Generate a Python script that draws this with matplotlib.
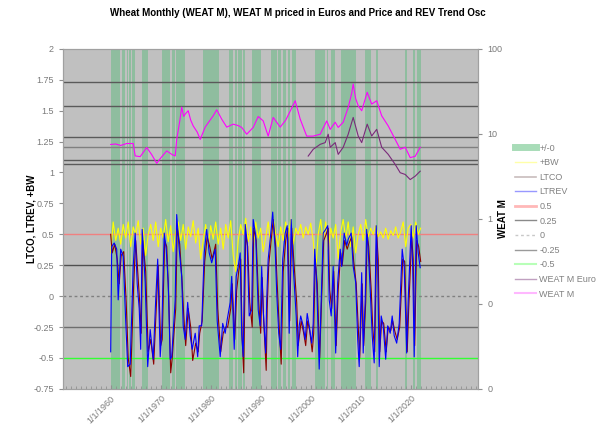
import matplotlib
matplotlib.use("Agg")
import matplotlib.pyplot as plt
from matplotlib.lines import Line2D
from matplotlib.ticker import FixedLocator, MultipleLocator
import numpy as np

plt.rcParams['font.family'] = ['Liberation Sans', 'DejaVu Sans']

# green "+/-0" periods (start year, end year)
bands = [(1960.0, 1961.9), (1962.3, 1962.9), (1963.2, 1963.5), (1963.7, 1964.0),
         (1964.2, 1964.9), (1966.2, 1967.5), (1970.2, 1971.9), (1972.2, 1972.9),
         (1973.1, 1974.9), (1978.4, 1981.7), (1983.7, 1984.5), (1984.9, 1985.2),
         (1985.4, 1986.2), (1986.4, 1986.9), (1988.2, 1990.1), (1992.0, 1993.2),
         (1993.5, 1994.0), (1994.4, 1995.0), (1995.4, 1995.9), (1996.2, 1997.1),
         (2000.9, 2002.9), (2003.2, 2003.5), (2004.0, 2004.9), (2006.1, 2009.1),
         (2010.9, 2012.1), (2013.0, 2013.4), (2018.9, 2019.3), (2020.4, 2020.9),
         (2021.3, 2022.0)]

# +BW (yellow), half-year samples from 1960.0
bw_start = 1960.0
bw = [0.35, 0.60, 0.45, 0.55, 0.42, 0.58, 0.47, 0.60, 0.40, 0.56, 0.50, 0.61,
      0.42, 0.55, 0.33, 0.50, 0.58, 0.45, 0.60, 0.40, 0.55, 0.47, 0.62, 0.44,
      0.57, 0.36, 0.52, 0.60, 0.45, 0.58, 0.38, 0.56, 0.48, 0.61, 0.43, 0.55,
      0.30, 0.45, 0.58, 0.40, 0.57, 0.46, 0.60, 0.42, 0.55, 0.38, 0.58, 0.47,
      0.61, 0.33, 0.20, 0.45, 0.58, 0.50, 0.63, 0.44, 0.56, 0.40, 0.60, 0.47,
      0.55, 0.36, 0.48, 0.60, 0.42, 0.63, 0.50, 0.40, 0.56, 0.45, 0.60, 0.48,
      0.62, 0.42, 0.55, 0.50, 0.58, 0.47, 0.56, 0.50, 0.59, 0.45, 0.20, 0.50,
      0.62, 0.44, 0.60, 0.38, 0.55, 0.47, 0.58, 0.30, 0.52, 0.62, 0.46, 0.60,
      0.40, 0.56, 0.35, 0.50, 0.58, 0.45, 0.62, 0.48, 0.55, 0.50, 0.57, 0.48,
      0.52, 0.47, 0.55, 0.46, 0.53, 0.49, 0.56, 0.47, 0.52, 0.60, 0.40, 0.55,
      0.58, 0.47, 0.60, 0.50, 0.55]

# LTCO (maroon)
ltco_years = [1960.0, 1960.3, 1960.8, 1961.3, 1961.7, 1962.1, 1962.6, 1963.1, 1963.5, 1964.0,
              1964.6, 1965.0, 1965.4, 1965.8, 1966.1, 1966.4, 1967.0, 1967.5, 1968.0, 1968.6,
              1969.1, 1969.5, 1970.0, 1970.3, 1970.8, 1971.2, 1971.6, 1972.0, 1972.3, 1973.0,
              1973.3, 1973.8, 1974.3, 1974.6, 1975.0, 1975.5, 1976.0, 1976.4, 1977.0, 1977.5,
              1977.8, 1978.3, 1978.8, 1979.3, 1979.8, 1980.3, 1981.0, 1981.4, 1982.0, 1982.5,
              1983.0, 1983.4, 1984.0, 1984.3, 1984.8, 1985.2, 1985.6, 1986.0, 1986.3, 1986.6,
              1987.0, 1987.4, 1987.8, 1988.3, 1988.6, 1989.1, 1989.6, 1990.0, 1990.3, 1990.6,
              1991.1, 1991.3, 1991.6, 1992.2, 1992.5, 1993.0, 1993.3, 1993.7, 1994.1, 1994.5,
              1995.0, 1995.4, 1995.8, 1996.2, 1996.6, 1997.2, 1997.5, 1997.8, 1998.1, 1998.6,
              1999.0, 1999.4, 1999.8, 2000.3, 2000.6, 2000.9, 2001.3, 2001.8, 2002.2, 2002.6,
              2003.1, 2003.5, 2003.8, 2004.2, 2004.6, 2005.1, 2005.5, 2006.0, 2006.3, 2006.8,
              2007.3, 2007.6, 2008.2, 2008.6, 2009.1, 2009.5, 2009.8, 2010.3, 2010.6, 2011.0,
              2011.3, 2011.6, 2012.1, 2012.4, 2012.8, 2013.2, 2013.5, 2013.8, 2014.2, 2014.6,
              2015.1, 2015.5, 2016.0, 2016.4, 2016.8, 2017.3, 2017.8, 2018.2, 2018.4, 2018.8,
              2019.3, 2019.6, 2020.2, 2020.5, 2020.8, 2021.2, 2021.6, 2022.0]
ltco = [0.50, 0.35, 0.42, 0.30, 0.10, 0.33, 0.36, -0.05, -0.50, -0.65,
        0.10, 0.45, 0.20, -0.05, -0.30, 0.45, 0.20, -0.45, -0.35, -0.55,
        -0.10, 0.25, -0.40, -0.35, 0.45, 0.40, 0.00, -0.62, -0.50, -0.10,
        0.55, 0.42, 0.10, -0.15, -0.40, -0.10, -0.25, -0.52, -0.38, -0.45,
        -0.30, -0.20, 0.28, 0.48, 0.40, 0.30, 0.42, -0.10, -0.45, -0.30,
        -0.25, -0.25, -0.10, 0.10, -0.35, 0.05, 0.20, 0.30, -0.35, -0.62,
        0.50, 0.40, -0.05, -0.25, 0.55, 0.45, -0.05, -0.30, 0.15, -0.20,
        -0.60, -0.10, 0.25, 0.50, 0.62, 0.40, 0.10, -0.25, -0.55, 0.20,
        0.45, 0.55, -0.20, 0.55, 0.30, -0.05, -0.40, -0.30, -0.20, -0.30,
        -0.40, -0.20, -0.28, -0.45, -0.30, 0.30, 0.10, -0.50, 0.00, 0.45,
        0.50, 0.55, 0.05, -0.10, 0.20, -0.40, 0.05, 0.35, 0.25, 0.45,
        0.38, 0.42, 0.48, 0.28, 0.10, -0.25, -0.50, 0.10, -0.40, -0.05,
        0.50, 0.40, 0.05, -0.25, -0.45, 0.50, 0.30, -0.45, -0.20, -0.22,
        -0.45, -0.25, -0.28, -0.20, -0.28, -0.35, -0.25, 0.10, 0.30, 0.28,
        -0.45, -0.10, 0.48, 0.30, -0.40, 0.45, 0.40, 0.28]

# LTREV (blue)
ltrev_years = [1960.0, 1960.2, 1960.7, 1961.2, 1961.5, 1962.0, 1962.5, 1963.0, 1963.4, 1963.9,
               1964.5, 1964.9, 1965.3, 1965.7, 1966.0, 1966.3, 1966.9, 1967.4, 1967.9, 1968.5,
               1969.0, 1969.4, 1969.9, 1970.2, 1970.7, 1971.1, 1971.5, 1971.9, 1972.2, 1972.9,
               1973.2, 1973.7, 1974.2, 1974.5, 1974.9, 1975.4, 1975.9, 1976.3, 1976.9, 1977.4,
               1977.7, 1978.2, 1978.7, 1979.2, 1979.7, 1980.2, 1980.9, 1981.3, 1981.9, 1982.4,
               1982.9, 1983.3, 1983.9, 1984.2, 1984.7, 1985.1, 1985.5, 1985.9, 1986.2, 1986.5,
               1986.9, 1987.3, 1987.7, 1988.2, 1988.5, 1989.0, 1989.5, 1989.9, 1990.2, 1990.5,
               1991.0, 1991.2, 1991.5, 1992.1, 1992.4, 1992.9, 1993.2, 1993.6, 1994.0, 1994.4,
               1994.9, 1995.3, 1995.7, 1996.1, 1996.5, 1997.1, 1997.4, 1997.7, 1998.0, 1998.5,
               1998.9, 1999.3, 1999.7, 2000.2, 2000.5, 2000.8, 2001.2, 2001.7, 2002.1, 2002.5,
               2003.0, 2003.4, 2003.7, 2004.1, 2004.5, 2005.0, 2005.4, 2005.9, 2006.2, 2006.7,
               2007.2, 2007.5, 2008.1, 2008.5, 2009.0, 2009.4, 2009.7, 2010.2, 2010.5, 2010.9,
               2011.2, 2011.5, 2012.0, 2012.3, 2012.7, 2013.1, 2013.4, 2013.7, 2014.1, 2014.5,
               2015.0, 2015.4, 2015.9, 2016.3, 2016.7, 2017.2, 2017.7, 2018.1, 2018.3, 2018.7,
               2019.2, 2019.5, 2020.1, 2020.4, 2020.7, 2021.1, 2021.5, 2021.9]
ltrev = [-0.45, 0.40, 0.43, 0.38, -0.03, 0.38, 0.32, -0.20, -0.57, -0.55,
         0.24, 0.51, 0.10, -0.10, -0.43, 0.54, 0.11, -0.57, -0.27, -0.51,
         -0.03, 0.30, -0.49, -0.30, 0.51, 0.38, 0.11, -0.51, -0.49, -0.03,
         0.66, 0.38, 0.16, -0.24, -0.35, -0.05, -0.32, -0.43, -0.30, -0.49,
         -0.24, -0.24, 0.35, 0.54, 0.35, 0.27, 0.38, -0.20, -0.49, -0.22,
         -0.30, -0.19, -0.05, 0.16, -0.43, 0.16, 0.24, 0.35, -0.30, -0.49,
         0.58, 0.43, -0.16, -0.11, 0.62, 0.49, -0.11, -0.24, 0.24, -0.11,
         -0.46, -0.03, 0.30, 0.54, 0.68, 0.38, 0.03, -0.30, -0.43, 0.30,
         0.51, 0.57, -0.30, 0.62, 0.24, -0.16, -0.49, -0.24, -0.16, -0.24,
         -0.35, -0.14, -0.24, -0.38, -0.22, 0.38, 0.10, -0.59, -0.03, 0.51,
         0.54, 0.57, -0.03, -0.16, 0.24, -0.46, 0.11, 0.38, 0.24, 0.51,
         0.41, 0.46, 0.51, 0.24, 0.11, -0.35, -0.57, 0.19, -0.46, -0.03,
         0.54, 0.38, -0.03, -0.32, -0.54, 0.57, 0.24, -0.57, -0.16, -0.24,
         -0.51, -0.24, -0.30, -0.16, -0.32, -0.38, -0.22, 0.19, 0.38, 0.24,
         -0.46, -0.03, 0.57, 0.24, -0.49, 0.57, 0.35, 0.23]

# WEAT M price (right, log axis)
weat_years = [1960.0, 1961.0, 1962.0, 1963.2, 1964.5, 1964.9, 1965.9, 1967.2, 1968.2, 1969.2,
              1970.0, 1971.2, 1972.3, 1972.9, 1973.2, 1973.8, 1974.2, 1974.6, 1974.9, 1975.5,
              1976.0, 1976.5, 1977.3, 1977.9, 1978.9, 1979.5, 1980.5, 1981.2, 1982.2, 1983.2,
              1984.5, 1985.5, 1986.2, 1987.2, 1988.5, 1989.5, 1990.5, 1991.5, 1992.5, 1993.9,
              1995.0, 1996.0, 1996.9, 1997.9, 1999.2, 2000.5, 2001.9, 2003.2, 2003.9, 2004.9,
              2005.5, 2006.5, 2007.5, 2008.2, 2008.5, 2009.0, 2009.5, 2010.2, 2011.3, 2012.2,
              2013.2, 2014.2, 2015.5, 2016.9, 2017.9, 2018.9, 2019.9, 2020.9, 2021.9]
weat = [7.5, 7.6, 7.3, 7.7, 7.7, 5.5, 5.4, 6.9, 5.7, 4.5,
        5.2, 6.3, 5.7, 5.5, 8.6, 14.0, 20.6, 16.0, 17.1, 18.7,
        14.5, 12.4, 10.5, 8.6, 12.0, 13.5, 16.3, 19.2, 14.9, 12.0,
        13.0, 12.5, 11.9, 9.9, 11.9, 16.0, 14.2, 9.4, 15.6, 12.0,
        14.5, 19.0, 24.5, 14.9, 9.4, 9.4, 9.9, 14.2, 11.3, 13.7,
        11.9, 13.7, 20.5, 30.0, 38.6, 26.0, 21.4, 18.7, 30.8, 22.4,
        24.5, 16.3, 12.4, 8.6, 6.6, 6.95, 5.25, 5.45, 6.95]

# WEAT M priced in Euros
euro_years = [1999.5, 2000.5, 2001.9, 2002.9, 2003.5, 2003.9, 2004.9, 2005.5, 2006.5, 2007.5,
              2008.5, 2009.5, 2010.2, 2011.3, 2012.2, 2013.2, 2014.2, 2015.5, 2016.9, 2017.9,
              2018.9, 2019.9, 2020.9, 2021.9]
weat_euro = [5.48, 6.58, 7.53, 7.89, 9.9, 6.95, 7.89, 5.74, 6.95, 9.9,
             15.6, 9.44, 7.89, 13.0, 9.44, 11.3, 6.95, 5.74, 4.37, 3.49,
             3.33, 2.90, 3.18, 3.64]

# unlabelled horizontal levels in the upper part
upper_levels = [1.73, 1.54, 1.29, 1.21, 1.10, 1.07]
upper_colors = ['#5a5a5a', '#5a5a5a', '#5a5a5a', '#808080', '#5a5a5a', '#5a5a5a']

decades = [1960, 1970, 1980, 1990, 2000, 2010, 2020]

fig = plt.figure(figsize=(6.0, 4.36), dpi=100)
ax = fig.add_axes([0.105, 0.108, 0.692, 0.780])
ax.set_facecolor('#c0c0c0')

for s, e in bands:
    ax.axvspan(s, e, color='#8fbd9f', lw=0, zorder=1)

for lv, c in zip(upper_levels, upper_colors):
    ax.axhline(lv, color=c, lw=1.0, zorder=2)
ax.axhline(0.5, color='#f08080', lw=1.0, zorder=2)
ax.axhline(0.25, color='#505050', lw=1.0, zorder=2)
ax.axhline(0.0, color='#808080', lw=1.0, ls=(0, (2, 2)), zorder=2)
ax.axhline(-0.25, color='#6e6e6e', lw=1.0, zorder=2)
ax.axhline(-0.5, color='#33ff33', lw=1.0, zorder=2)

bw_years = bw_start + 0.5 * np.arange(len(bw))
ax.plot(bw_years, bw, color='#ffff00', lw=0.8, zorder=3)
ax.plot(ltco_years, ltco, color='#8b0000', lw=0.8, zorder=4)
ax.plot(ltrev_years, ltrev, color='#0000ff', lw=0.8, zorder=5)

ax.set_xlim(1950.46, 2033.5)
ax.set_ylim(-0.75, 2.0)
yt = np.arange(-0.75, 2.01, 0.25)
ax.set_yticks(yt)
ax.set_yticklabels(['%g' % v for v in yt])
ax.xaxis.set_major_locator(FixedLocator(decades))
ax.xaxis.set_minor_locator(MultipleLocator(1))
ax.set_xticklabels(['1/1/%d' % d for d in decades], rotation=45, ha='right',
                   rotation_mode='anchor')
ax.tick_params(axis='both', labelsize=6.5, labelcolor='#7a7a7a', color='#909090')
ax.tick_params(axis='x', direction='in', length=3)
ax.tick_params(axis='x', which='minor', direction='in', length=2, color='#909090')
ax.tick_params(axis='y', direction='out', length=3)
for sp in ax.spines.values():
    sp.set_color('#a0a0a0')
ax.set_ylabel('LTCO, LTREV, +BW', fontsize=7, fontweight='bold')
ax.yaxis.set_label_coords(-0.063, 0.5)

ax2 = ax.twinx()
ax2.set_yscale('log')
ax2.set_ylim(0.01, 100)
ax2.plot(euro_years, weat_euro, color='#7a2a7a', lw=0.8, zorder=6)
ax2.plot(weat_years, weat, color='#ff00ff', lw=0.8, zorder=6)
ax2.yaxis.set_major_locator(FixedLocator([0.01, 0.1, 1, 10, 100]))
ax2.yaxis.set_minor_locator(FixedLocator([]))
ax2.set_yticklabels(['0', '0', '1', '10', '100'])
ax2.tick_params(axis='y', labelsize=6.5, labelcolor='#7a7a7a', color='#909090',
                direction='out', length=3)
for sp in ax2.spines.values():
    sp.set_color('#a0a0a0')
ax2.set_ylabel('WEAT M', fontsize=7, fontweight='bold')
ax2.yaxis.set_label_coords(1.048, 0.5)

fig.text(0.497, 1 - 13 / 436, 'Wheat Monthly (WEAT M), WEAT M priced in Euros and Price and REV Trend Osc',
         ha='center', va='center', fontsize=7, fontweight='bold')

handles = [
    Line2D([], [], color='#a8dcb8', lw=5),
    Line2D([], [], color='#ffffa8', lw=1),
    Line2D([], [], color='#c8bcbc', lw=1.2),
    Line2D([], [], color='#9898ff', lw=1),
    Line2D([], [], color='#ffb8b8', lw=2),
    Line2D([], [], color='#8a8a8a', lw=1),
    Line2D([], [], color='#c8c8c8', lw=1, ls=(0, (2, 2))),
    Line2D([], [], color='#9a9a9a', lw=1),
    Line2D([], [], color='#b8ffb8', lw=1.5),
    Line2D([], [], color='#c0a0c0', lw=1),
    Line2D([], [], color='#ffb8ff', lw=1.5),
]
labels = ['+/-0', '+BW', 'LTCO', 'LTREV', '0.5', '0.25', '0', '-0.25', '-0.5',
          'WEAT M Euro', 'WEAT M']
leg = fig.legend(handles, labels, loc='upper left', bbox_to_anchor=(0.852, 1 - 140 / 436),
                 frameon=False, fontsize=6.5, handlelength=2.3, handletextpad=0.4,
                 labelspacing=0.62, borderaxespad=0)
for t in leg.get_texts():
    t.set_color('#808080')

fig.savefig('out.png', dpi=100)
